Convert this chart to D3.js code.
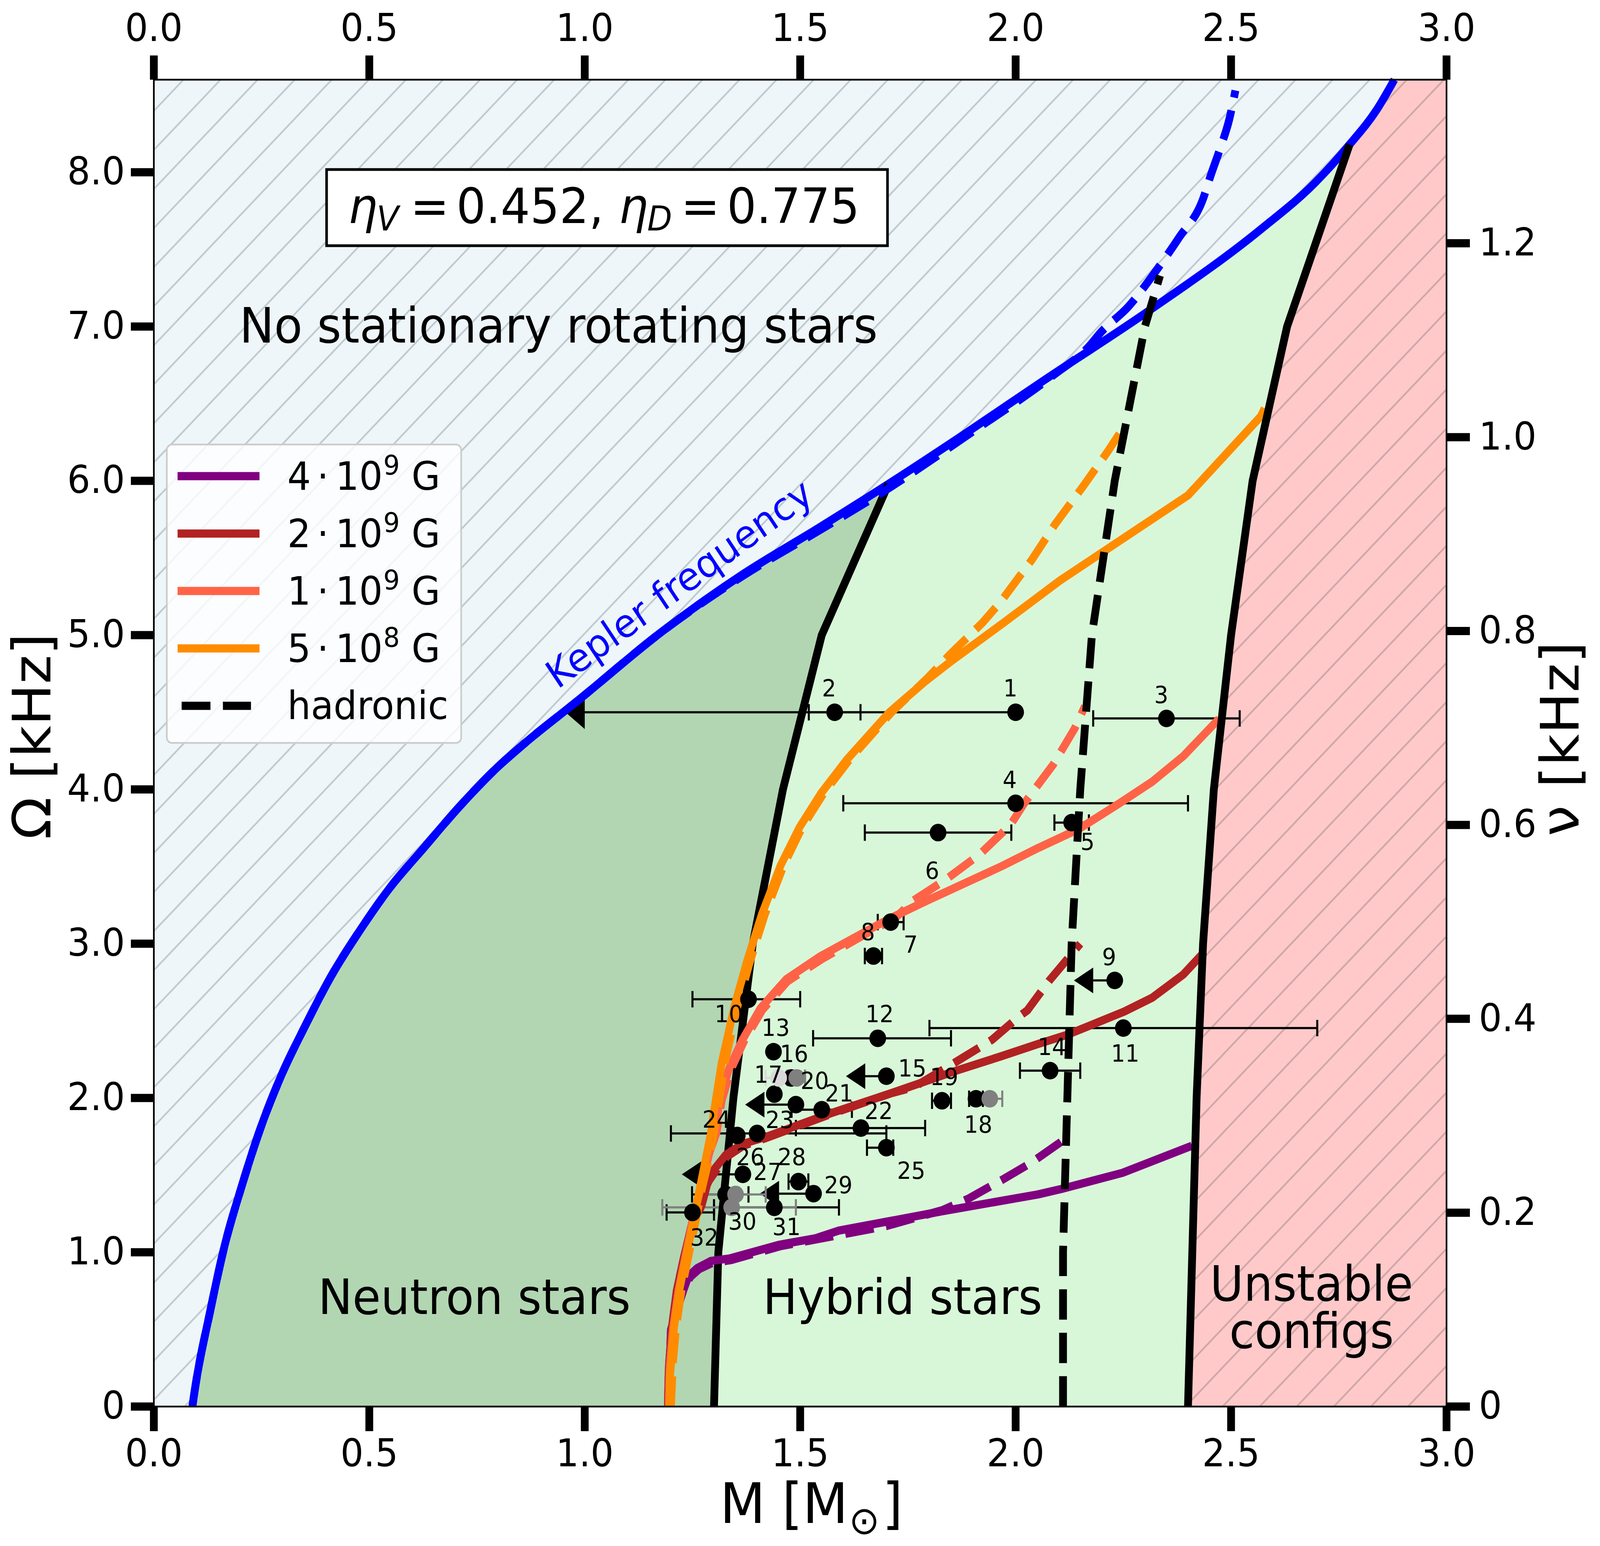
<!DOCTYPE html>
<html>
<head>
<meta charset="utf-8">
<script src="https://cdn.jsdelivr.net/npm/d3@7"></script>
<style>
  html, body { margin: 0; padding: 0; background: #fff; overflow: hidden; }
  text { font-family: "DejaVu Sans"; }
</style>
</head>
<body>
<div id="chart"></div>
<script>
// all curves are [M, Omega]
const kepler = [[0.0895,0],[0.092,0.05],[0.132,0.635],[0.164,1.04],[0.203,1.42],[0.247,1.8],[0.296,2.147],[0.351,2.466],[0.411,2.787],[0.483,3.106],[0.549,3.367],[0.62,3.6],[0.713,3.9],[0.796,4.14],[0.861,4.3],[0.986,4.58],[1.178,5.02],[1.37,5.4],[1.54,5.69],[1.705,5.98],[1.885,6.31],[2.065,6.65],[2.306,7.096],[2.569,7.63],[2.694,7.93],[2.775,8.18],[2.838,8.405],[2.879,8.6]];
const keplerHadronic = [[0.0895,0],[0.092,0.05],[0.132,0.635],[0.164,1.04],[0.203,1.42],[0.247,1.8],[0.296,2.147],[0.351,2.466],[0.411,2.787],[0.483,3.106],[0.549,3.367],[0.62,3.6],[0.713,3.9],[0.796,4.14],[0.861,4.3],[0.986,4.58],[1.178,5.02],[1.37,5.39],[1.545,5.68],[1.71,5.96],[1.885,6.29],[2.09,6.69],[2.17,6.87],[2.197,6.96],[2.262,7.13],[2.323,7.35],[2.38,7.58],[2.434,7.82],[2.454,7.99],[2.475,8.157],[2.496,8.345],[2.51,8.53]];
const leftBoundary = [[1.3,0],[1.31,1],[1.345,2],[1.39,3],[1.46,4],[1.55,5],[1.705,5.98]];
const rightBoundary = [[2.4,0],[2.41,1],[2.42,2],[2.435,3],[2.46,4],[2.5,5],[2.55,6],[2.63,7],[2.775,8.18]];
const hadronic = [[2.11,0],[2.11,1],[2.12,2],[2.13,3],[2.15,4],[2.177,5],[2.23,6],[2.3,7],[2.335,7.33]];

const purpleHybrid = [[1.195,0],[1.197,0.25],[1.2,0.5],[1.229,0.754],[1.241,0.846],[1.261,0.897],[1.293,0.944],[1.336,0.96],[1.45,1.048],[1.536,1.091],[1.589,1.14],[1.83,1.266],[2.052,1.375],[2.106,1.41],[2.248,1.515],[2.409,1.69]];
const purpleHadronic = [[1.195,0],[1.197,0.25],[1.2,0.5],[1.229,0.76],[1.245,0.84],[1.265,0.89],[1.295,0.93],[1.34,0.95],[1.455,1.04],[1.54,1.085],[1.7,1.17],[1.83,1.273],[1.89,1.347],[1.969,1.47],[2.036,1.58],[2.118,1.74]];
const brownHybrid = [[1.193,0],[1.195,0.25],[1.202,0.51],[1.214,0.76],[1.23,0.965],[1.25,1.2],[1.271,1.3],[1.284,1.438],[1.301,1.539],[1.327,1.63],[1.364,1.7],[1.42,1.747],[1.57,1.9],[1.71,2.03],[1.86,2.175],[1.966,2.27],[2.052,2.35],[2.12,2.41],[2.252,2.56],[2.317,2.65],[2.389,2.8],[2.438,2.947]];
const brownHadronic = [[1.193,0],[1.195,0.25],[1.202,0.51],[1.214,0.76],[1.23,0.965],[1.25,1.2],[1.272,1.3],[1.28,1.43],[1.305,1.53],[1.33,1.62],[1.368,1.69],[1.42,1.74],[1.57,1.895],[1.71,2.03],[1.764,2.07],[1.861,2.233],[1.945,2.377],[2.012,2.537],[2.027,2.567],[2.077,2.757],[2.15,3]];
const coralHybrid = [[1.195,0],[1.197,0.25],[1.205,0.51],[1.218,0.76],[1.233,0.965],[1.25,1.2],[1.272,1.45],[1.29,1.65],[1.304,1.775],[1.312,1.985],[1.335,2.19],[1.366,2.377],[1.408,2.582],[1.468,2.77],[1.546,2.917],[1.65,3.076],[1.707,3.162],[1.795,3.28],[1.966,3.5],[2.052,3.62],[2.147,3.744],[2.241,3.91],[2.317,4.05],[2.389,4.215],[2.472,4.458]];
const coralHadronic = [[1.195,0],[1.197,0.25],[1.205,0.51],[1.218,0.76],[1.233,0.965],[1.25,1.2],[1.272,1.45],[1.29,1.65],[1.306,1.775],[1.318,1.985],[1.34,2.19],[1.37,2.37],[1.412,2.57],[1.47,2.755],[1.55,2.9],[1.65,3.06],[1.72,3.165],[1.762,3.278],[1.84,3.42],[1.917,3.58],[1.988,3.77],[2.02,3.91],[2.087,4.16],[2.137,4.395],[2.161,4.54]];
const orangeHybrid = [[1.197,0],[1.198,0.2],[1.207,0.509],[1.22,0.762],[1.235,0.965],[1.252,1.2],[1.267,1.413],[1.278,1.565],[1.293,1.775],[1.3,1.914],[1.318,2.23],[1.348,2.6],[1.376,2.88],[1.411,3.19],[1.455,3.51],[1.499,3.757],[1.549,3.977],[1.609,4.195],[1.707,4.5],[1.79,4.7],[1.85,4.83],[1.972,5.08],[2.103,5.354],[2.4,5.906],[2.569,6.418],[2.578,6.47]];
const orangeHadronic = [[1.2,0],[1.205,0.3],[1.212,0.51],[1.225,0.762],[1.24,0.965],[1.257,1.2],[1.272,1.413],[1.285,1.565],[1.3,1.775],[1.31,1.95],[1.325,2.23],[1.355,2.6],[1.383,2.88],[1.418,3.19],[1.462,3.51],[1.505,3.757],[1.555,3.977],[1.615,4.195],[1.712,4.5],[1.795,4.72],[1.847,4.873],[1.923,5.08],[1.966,5.218],[2.038,5.49],[2.092,5.72],[2.158,5.97],[2.213,6.187],[2.249,6.34]];

// pulsars, one entry per dot; 0 label = unnumbered dot
const pulsarLabel = [1,2,3,4,5,6,7,8,9,10,11,12,13,14,15,0,17,18,19,20,21,22,23,24,25,26,27,28,29,31,32,16,0,0,0,30];
const pulsarM =     [2,1.58,2.35,2,2.13,1.82,1.71,1.67,2.23,1.38,2.25,1.68,1.438,2.08,1.7,1.479,1.44,1.908,1.829,1.49,1.55,1.641,1.4,1.354,1.7,1.367,1.327,1.496,1.531,1.44,1.25,1.492,1.45,1.94,1.35,1.341];
const pulsarOmega = [4.5,4.5,4.46,3.91,3.785,3.72,3.14,2.92,2.762,2.64,2.453,2.387,2.3,2.177,2.141,2.13,2.025,1.995,1.982,1.957,1.924,1.805,1.77,1.757,1.678,1.505,1.375,1.458,1.38,1.291,1.258,2.13,2.13,1.995,1.375,1.291];
const pulsarLow =   [1,1.52,2.18,1.6,2.09,1.65,1.68,1.65,2.18,1.25,1.8,1.53,null,2.01,1.651,1.45,null,1.892,1.806,1.417,1.48,1.49,1.2,null,1.655,1.27,1.249,1.473,1.451,1.3,1.19,1.47,1.42,1.91,1.28,1.18];
const pulsarHigh =  [2,1.64,2.52,2.4,2.17,1.99,1.74,1.69,2.23,1.5,2.7,1.85,null,2.15,1.7,1.511,null,1.924,1.85,1.49,1.62,1.79,1.7,null,1.716,1.367,1.38,1.519,1.531,1.59,1.3,1.511,1.48,1.969,1.42,1.49];
const pulsarUpperLimit = [1,0,0,0,0,0,0,0,1,0,0,0,0,0,1,0,0,0,0,1,0,0,0,0,0,1,0,0,1,0,0,0,0,0,0,0];
const pulsarGroup = [0,0,0,0,0,0,0,0,0,0,0,0,0,0,0,0,0,0,0,0,0,0,0,0,0,0,0,0,0,0,0,2,1,2,2,2];

const massTicks = [0, 0.5, 1, 1.5, 2, 2.5, 3];
const omegaTicks = [0, 1, 2, 3, 4, 5, 6, 7, 8];
const nuTicks = [0, 0.2, 0.4, 0.6, 0.8, 1, 1.2];
const legendEntries = [["4", "9", "#800080"], ["2", "9", "#b22222"], ["1", "9", "#ff6347"], ["5", "8", "#ff8c00"]];

// number offsets from the dot, in pixels (dx, dy of the text baseline centre)
const labelOffset = {1:[-14,-40],2:[-15,-40],3:[-14,-39],4:[-16,-40],5:[43,70],6:[-16,118],7:[54,78],8:[-15,-41],9:[-15,-39],10:[-53,59],11:[5,86],12:[5,-41],13:[6,-40],14:[5,-40],15:[70,1],16:[-7,-41],17:[-16,-29],18:[6,87],19:[6,-40],20:[51,-40],21:[47,-21],22:[48,-23],23:[61,-14],24:[-56,-20],25:[67,80],26:[20,-24],27:[113,-37],28:[-18,-42],29:[67,-1],30:[29,57],31:[33,71],32:[32,85]};

const width = 4316, height = 3958;
const plotL = 415, plotR = 3902, plotT = 204, plotB = 3601;
const lw = 21;
const dash = "77.7,33.6";

const x = d3.scaleLinear().domain([0, 3]).range([plotL, plotR]);
const y = d3.scaleLinear().domain([0, 8.6]).range([plotB, plotT]);
const yNu = d3.scaleLinear().domain([0, 8.6 / (2 * Math.PI)]).range([plotB, plotT]);
const line = d3.line().x(d => x(d[0])).y(d => y(d[1]));
const smooth = d3.line().x(d => x(d[0])).y(d => y(d[1])).curve(d3.curveMonotoneX);

// the browser clamps the window to 4096 wide, so the 4316 layout is stretched to fill it
const svg = d3.select("#chart").append("svg")
  .attr("viewBox", [0, 0, width, height])
  .attr("preserveAspectRatio", "none")
  .style("width", "100vw").style("height", "100vh")
  .style("display", "block");

const defs = svg.append("defs");
function hatch(id, color) {
  const p = defs.append("pattern").attr("id", id)
    .attr("patternUnits", "userSpaceOnUse")
    .attr("width", 100).attr("height", 100)
    .attr("patternTransform", "translate(-1,0)");
  p.append("path").attr("d", "M-10,10L10,-10M0,100L100,0M90,110L110,90")
    .attr("stroke", color).attr("stroke-width", 4.5);
}
hatch("hatchBlue", "#c0cace");
hatch("hatchPink", "#cfa6a8");

// regions
const corners = [[0, 0], [3, 0], [3, 8.6], [0, 8.6]];
svg.append("path").attr("d", line(corners) + "Z").attr("fill", "#eef6fa");
svg.append("path").attr("d", line(corners) + "Z").attr("fill", "url(#hatchBlue)");

const unstable = rightBoundary.concat(kepler.filter(d => d[0] > 2.775), [[3, 8.6], [3, 0]]);
svg.append("path").attr("d", line(unstable) + "Z").attr("fill", "#ffc9c9");
svg.append("path").attr("d", line(unstable) + "Z").attr("fill", "url(#hatchPink)");

const neutron = kepler.filter(d => d[0] <= 1.705).concat(leftBoundary.slice().reverse());
svg.append("path").attr("d", line(neutron) + "Z").attr("fill", "#b2d6b2");

const hybrid = leftBoundary.concat(kepler.filter(d => d[0] > 1.705 && d[0] < 2.775), rightBoundary.slice().reverse());
svg.append("path").attr("d", line(hybrid) + "Z").attr("fill", "#d8f7d8");

// pulsars
const pulsars = pulsarM.map((m, i) => ({
  label: pulsarLabel[i], m: m, omega: pulsarOmega[i], low: pulsarLow[i], high: pulsarHigh[i],
  limit: pulsarUpperLimit[i], group: pulsarGroup[i]
}));
const groupColor = ["#000", "#d9d9d9", "#808080"];
const capHalf = 21;

const bars = svg.append("g");
pulsars.filter(d => d.low !== null).forEach(d => {
  const col = groupColor[d.group];
  bars.append("line")
    .attr("x1", x(d.low)).attr("x2", x(d.high))
    .attr("y1", y(d.omega)).attr("y2", y(d.omega))
    .attr("stroke", col).attr("stroke-width", 5.5);
  if (d.limit) {
    const halfH = d.label === 1 ? 43 : 33;
    bars.append("path")
      .attr("d", `M${x(d.low)},${y(d.omega) - halfH}L${x(d.low) - 52},${y(d.omega)}L${x(d.low)},${y(d.omega) + halfH}Z`)
      .attr("fill", col);
  } else {
    [d.low, d.high].forEach(v => {
      bars.append("line")
        .attr("x1", x(v)).attr("x2", x(v))
        .attr("y1", y(d.omega) - capHalf).attr("y2", y(d.omega) + capHalf)
        .attr("stroke", col).attr("stroke-width", 5.5);
    });
  }
});

function curve(data, color, dashed, gen) {
  const p = svg.append("path")
    .attr("d", (gen || line)(data))
    .attr("fill", "none")
    .attr("stroke", color)
    .attr("stroke-width", lw)
    .attr("stroke-linejoin", "round");
  if (dashed) p.attr("stroke-dasharray", dash);
  return p;
}

curve(kepler, "#0000ff", false, smooth);
curve(leftBoundary, "#000");
curve(keplerHadronic, "#0000ff", true, smooth);
curve(purpleHadronic, "#800080", true);
curve(purpleHybrid, "#800080");
curve(brownHadronic, "#b22222", true);
curve(brownHybrid, "#b22222");
curve(coralHadronic, "#ff6347", true);
curve(coralHybrid, "#ff6347");
curve(orangeHadronic, "#ff8c00", true);
curve(orangeHybrid, "#ff8c00");
curve(hadronic, "#000", true);
curve(rightBoundary, "#000");

svg.append("g").selectAll("circle")
  .data(pulsars)
  .join("circle")
    .attr("cx", d => x(d.m))
    .attr("cy", d => y(d.omega))
    .attr("r", 22.5)
    .attr("fill", d => groupColor[d.group]);

svg.append("g").attr("text-anchor", "middle").attr("font-size", 60)
  .selectAll("text")
  .data(pulsars.filter(d => d.label > 0))
  .join("text")
    .attr("x", d => x(d.m) + labelOffset[d.label][0])
    .attr("y", d => y(d.omega) + labelOffset[d.label][1])
    .text(d => d.label);

// region names
const notes = svg.append("g").attr("font-size", 124);
notes.append("text").attr("x", 646).attr("y", 877).attr("font-size", 125).text("No stationary rotating stars");
notes.append("text").attr("x", 858).attr("y", 3364).text("Neutron stars");
notes.append("text").attr("x", 2058).attr("y", 3364).text("Hybrid stars");
notes.append("text").attr("x", 3538).attr("y", 3330).attr("text-anchor", "middle").text("Unstable");
notes.append("text").attr("x", 3538).attr("y", 3451).attr("text-anchor", "middle").text("configs");

svg.append("text")
  .attr("transform", "translate(1504,1766) rotate(-35)")
  .attr("font-size", 100).attr("fill", "#0000ff")
  .text("Kepler frequency");

// parameter box
svg.append("rect").attr("x", 881).attr("y", 434).attr("width", 1513).attr("height", 195)
  .attr("fill", "#fff").attr("stroke", "#000").attr("stroke-width", 7);
const box = svg.append("text").attr("y", 571).attr("font-size", 125);
[[939, 1016, "V", 1107, 1231, "0.452,"], [1669, 1746, "D", 1837, 1961, "0.775"]].forEach(g => {
  box.append("tspan").attr("x", g[0]).attr("y", 571).attr("font-style", "italic").text("η");
  box.append("tspan").attr("x", g[1]).attr("y", 590).attr("font-size", 87).attr("font-style", "italic").text(g[2]);
  box.append("tspan").attr("x", g[3]).attr("y", 571).text("=");
  box.append("tspan").attr("x", g[4]).attr("y", 571).text(g[5]);
});

// legend
const legend = svg.append("g");
legend.append("rect").attr("x", 450).attr("y", 1138).attr("width", 794).attr("height", 764)
  .attr("rx", 14).attr("fill", "#fff").attr("fill-opacity", 0.8)
  .attr("stroke", "#ccc").attr("stroke-width", 4.5);
legendEntries.forEach((d, i) => {
  const ly = 1219 + 147 * i;
  const base = ly + 35;
  legend.append("line").attr("x1", 479).attr("x2", 700).attr("y1", ly).attr("y2", ly)
    .attr("stroke", d[2]).attr("stroke-width", lw);
  const t = legend.append("text").attr("font-size", 100);
  t.append("tspan").attr("x", 775).attr("y", base).text(d[0]);
  t.append("tspan").attr("x", 855).attr("y", base).text("·");
  t.append("tspan").attr("x", 905).attr("y", base).text("10");
  t.append("tspan").attr("x", 1034).attr("y", base - 39).attr("font-size", 70).text(d[1]);
  t.append("tspan").attr("x", 1110).attr("y", base).text("G");
});
legend.append("line").attr("x1", 490).attr("x2", 677).attr("y1", 1807).attr("y2", 1807)
  .attr("stroke", "#000").attr("stroke-width", lw).attr("stroke-dasharray", dash);
legend.append("text").attr("x", 775).attr("y", 1841).attr("font-size", 100).text("hadronic");

// axes
function styleAxis(g) {
  g.attr("font-size", 98).attr("font-family", "DejaVu Sans");
  g.select(".domain").attr("stroke", "#000").attr("stroke-width", 4.5);
  g.selectAll(".tick line").attr("stroke", "#000").attr("stroke-width", lw);
}
const fmt = d => d === 0 ? "0" : d3.format(".1f")(d);
const fmtX = d3.format(".1f");

svg.append("g").attr("transform", `translate(0,${plotB})`)
  .call(d3.axisBottom(x).tickValues(massTicks).tickFormat(fmtX).tickSize(63).tickPadding(20).tickSizeOuter(0).offset(0))
  .call(styleAxis);
svg.append("g").attr("transform", `translate(0,${plotT})`)
  .call(d3.axisTop(x).tickValues(massTicks).tickFormat(fmtX).tickSize(62).tickPadding(37).tickSizeOuter(0).offset(0))
  .call(styleAxis);
svg.append("g").attr("transform", `translate(${plotL},0)`)
  .call(d3.axisLeft(y).tickValues(omegaTicks).tickFormat(fmt).tickSize(62).tickPadding(16).tickSizeOuter(0).offset(0))
  .call(styleAxis);
svg.append("g").attr("transform", `translate(${plotR},0)`)
  .call(d3.axisRight(yNu).tickValues(nuTicks).tickFormat(fmt).tickSize(63).tickPadding(24).tickSizeOuter(0).offset(0))
  .call(styleAxis);

// axis titles
const xTitle = svg.append("text").attr("y", 3899).attr("font-size", 142);
xTitle.append("tspan").attr("x", 1942).text("M [M");
xTitle.append("tspan").attr("x", 2290).attr("y", 3927).attr("font-size", 99).text("⊙");
xTitle.append("tspan").attr("x", 2380).attr("y", 3899).text("]");

svg.append("text")
  .attr("transform", "translate(136,1885) rotate(-90)")
  .attr("text-anchor", "middle").attr("font-size", 142)
  .text("Ω [kHz]");
svg.append("text")
  .attr("transform", "translate(4258,1892) rotate(-90)")
  .attr("text-anchor", "middle").attr("font-size", 142)
  .text("ν [kHz]");
</script>
</body>
</html>
